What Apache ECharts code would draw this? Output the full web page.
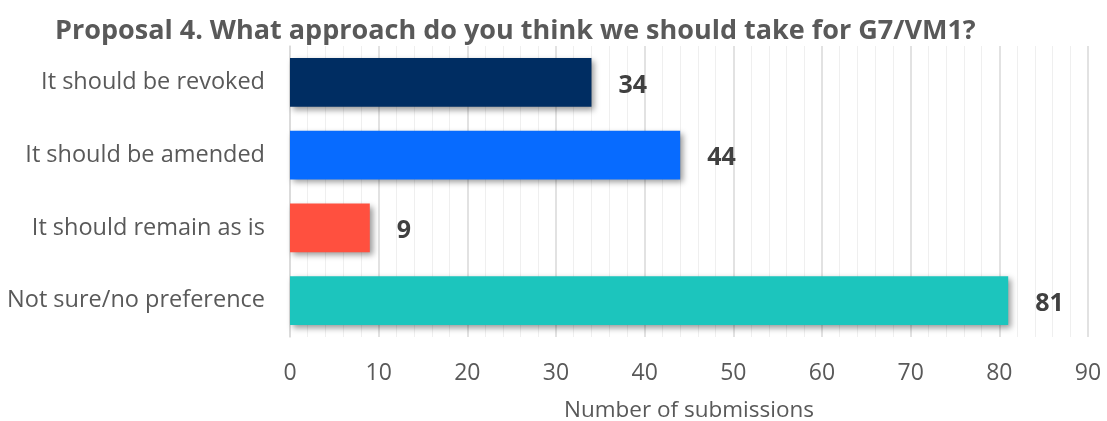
<!DOCTYPE html>
<html>
<head>
<meta charset="utf-8">
<script src="https://cdn.jsdelivr.net/npm/echarts@6/dist/echarts.min.js"></script>
<style>
  html, body { margin: 0; padding: 0; background: #fff; }
  #chart { width: 1107px; height: 421px; }
</style>
</head>
<body>
<div id="chart"></div>
<script>
// Survey responses for Proposal 4
const titleText = 'Proposal 4. What approach do you think we should take for G7/VM1?';
const categories = ['It should be revoked', 'It should be amended', 'It should remain as is', 'Not sure/no preference'];
const submissions = [34, 44, 9, 81];
const barColors = ['#002d62', '#076bff', '#ff503f', '#1cc5bd'];
const axisName = 'Number of submissions';
const axisMin = 0;
const axisMax = 90;
const axisStep = 10;

const font = '"Open Sans", "Noto Sans", sans-serif';
const chart = echarts.init(document.getElementById('chart'), null, { renderer: 'canvas' });

chart.setOption({
  animation: false,
  backgroundColor: '#ffffff',
  title: {
    text: titleText,
    left: 50,
    top: 13,
    textStyle: { fontFamily: font, fontWeight: 'bold', fontSize: 27, color: '#595959' }
  },
  grid: { left: 290, right: 19, top: 46, height: 291, outerBoundsMode: 'none' },
  xAxis: {
    type: 'value',
    min: axisMin,
    max: axisMax,
    interval: axisStep,
    name: axisName,
    nameLocation: 'middle',
    nameGap: 62,
    nameTextStyle: { fontFamily: font, fontSize: 22.5, color: '#595959' },
    axisLine: { show: false },
    axisTick: { show: false },
    axisLabel: { fontFamily: font, fontSize: 23, color: '#595959', margin: 25 },
    splitLine: { show: true, lineStyle: { color: '#d9d9d9', width: 1.5 } },
    minorTick: { show: false, splitNumber: 5 },
    minorSplitLine: { show: true, lineStyle: { color: '#efefef', width: 1 } }
  },
  yAxis: {
    type: 'category',
    data: categories,
    inverse: true,
    axisLine: { show: true, lineStyle: { color: '#d9d9d9', width: 1.5 } },
    axisTick: { show: false },
    axisLabel: { fontFamily: font, fontSize: 23.5, color: '#595959', margin: 25 }
  },
  series: [{
    type: 'bar',
    data: submissions.map((v, i) => ({ value: v, itemStyle: { color: barColors[i] } })),
    barCategoryGap: '33%',
    itemStyle: {
      shadowColor: 'rgba(0,0,0,0.4)',
      shadowBlur: 6,
      shadowOffsetX: 3,
      shadowOffsetY: 3
    },
    label: {
      show: true,
      position: 'right',
      distance: 27,
      fontFamily: font,
      fontWeight: 'bold',
      fontSize: 25,
      color: '#404040',
      offset: [0, 3]
    }
  }]
});
</script>
</body>
</html>
